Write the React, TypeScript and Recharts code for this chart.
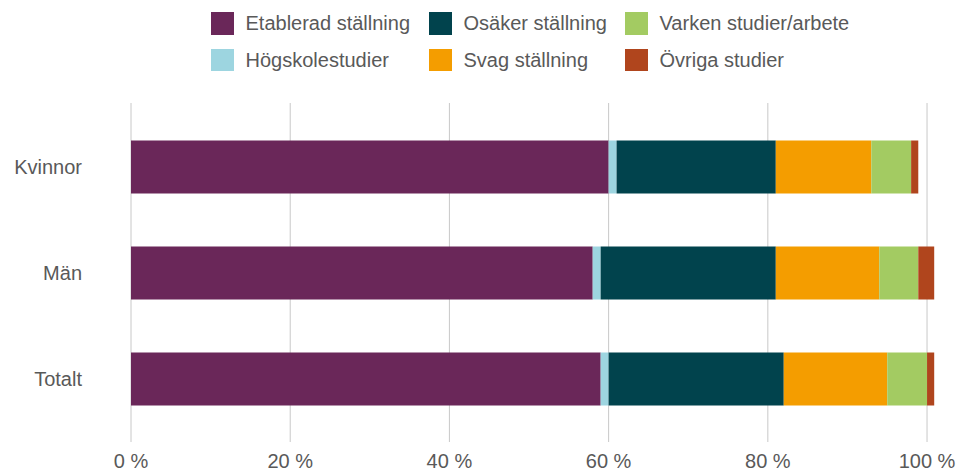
import { BarChart, Bar, XAxis, YAxis, CartesianGrid, Legend } from "recharts";

const GROUPS = ["Kvinnor", "Män", "Totalt"];
const SERIES = [
  "Etablerad ställning",
  "Högskolestudier",
  "Osäker ställning",
  "Svag ställning",
  "Varken studier/arbete",
  "Övriga studier",
];
const COLORS = ["#6A2759", "#9DD5E0", "#01434D", "#F49D00", "#A3CB62", "#B0451D"];

// share in percent, one array per series, in group order
const ETABLERAD = [60, 58, 59];
const HOGSKOLE = [1, 1, 1];
const OSAKER = [20, 22, 22];
const SVAG = [12, 13, 13];
const VARKEN = [5, 4.9, 5];
const OVRIGA = [0.9, 2, 0.9];

const X_TICKS = [0, 20, 40, 60, 80, 100];

const VALUES = [ETABLERAD, HOGSKOLE, OSAKER, SVAG, VARKEN, OVRIGA];
const data = GROUPS.map((g, i) => {
  const row: Record<string, string | number> = { group: g };
  SERIES.forEach((s, j) => {
    row[s] = VALUES[j][i];
  });
  return row;
});

const W = 958;
const H = 471;
const MARGIN = { top: 114, right: 23, bottom: 0, left: 0 };
const FONT = "'Liberation Sans', Arial, sans-serif";
const TEXT = "#595959";

// eslint-disable-next-line @typescript-eslint/no-explicit-any
function LegendGrid({ payload }: any) {
  return (
    <div
      style={{
        marginLeft: 211,
        paddingTop: 12,
        display: "grid",
        gridTemplateColumns: "218px 196px 260px",
        gridTemplateRows: "36.5px 36.5px",
        gridAutoFlow: "column",
        fontFamily: FONT,
        fontSize: 20,
        color: TEXT,
      }}
    >
      {(payload || []).map((p: any) => (
        <div key={p.value} style={{ display: "flex", alignItems: "flex-start", height: 23 }}>
          <span
            style={{
              display: "inline-block",
              width: 22.5,
              height: 22.5,
              background: p.color,
              marginRight: 12,
              flexShrink: 0,
            }}
          />
          <span style={{ lineHeight: "22.5px", whiteSpace: "nowrap" }}>{p.value}</span>
        </div>
      ))}
    </div>
  );
}

// grid lines run a bit past the bars; the line at the plot's right edge (101) is dropped
// eslint-disable-next-line @typescript-eslint/no-explicit-any
function GridLine(props: any) {
  const { x1, x2, y1, y2 } = props;
  if (x1 > W - MARGIN.right - 2) return <g />;
  return <line x1={x1} x2={x2} y1={y1 - 11} y2={y2 + 10} stroke="#c8c8c8" strokeWidth={1} />;
}

export default function App() {
  return (
    <div style={{ position: "absolute", left: 0, top: 0, width: W, height: H, background: "#fff" }}>
      <BarChart width={W} height={H} data={data} layout="vertical" barCategoryGap={26.5} margin={MARGIN}>
        <CartesianGrid
          horizontal={false}
          vertical={(p: any) => <GridLine key={`g-${p.x1}`} {...p} />}
        />
        <XAxis
          type="number"
          domain={[0, 101]}
          ticks={X_TICKS}
          tickFormatter={(v) => `${v} %`}
          axisLine={false}
          tickLine={false}
          tickSize={0}
          tickMargin={22}
          height={39}
          interval={0}
          tick={{ fontSize: 20, fill: TEXT, fontFamily: FONT }}
        />
        <YAxis
          type="category"
          dataKey="group"
          width={131}
          axisLine={false}
          tickLine={false}
          tickSize={0}
          tickMargin={49}
          tick={{ fontSize: 20, fill: TEXT, fontFamily: FONT }}
        />
        <Legend
          layout="horizontal"
          verticalAlign="middle"
          align="center"
          wrapperStyle={{ top: 0, left: 0, width: W }}
          content={<LegendGrid />}
        />
        {SERIES.map((s, i) => (
          <Bar key={s} dataKey={s} stackId="a" fill={COLORS[i]} isAnimationActive={false} />
        ))}
      </BarChart>
    </div>
  );
}
